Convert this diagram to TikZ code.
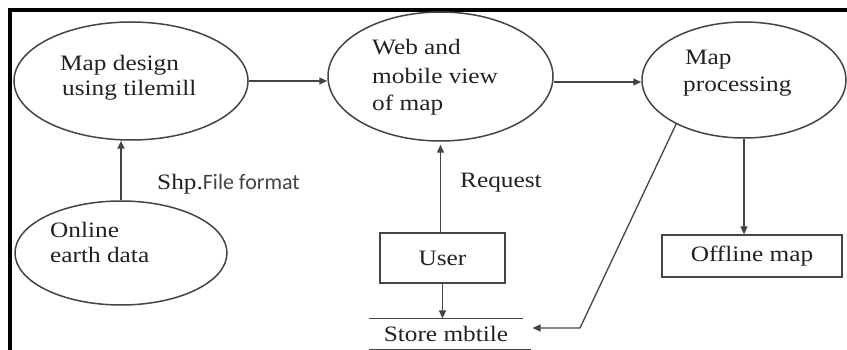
\documentclass[tikz,border=0pt]{standalone}
\usepackage{fontspec}
\setmainfont{Liberation Serif}[FakeStretch=1.15]
\newfontfamily\labsans{Carlito}
\usetikzlibrary{shapes.geometric,arrows.meta}
\definecolor{ln}{HTML}{444444}
\definecolor{tx}{HTML}{222222}
\tikzset{
  ell/.style={ellipse, draw=ln, line width=1.5pt, inner sep=0pt},
  boxn/.style={rectangle, draw=ln, line width=1.2pt, inner sep=0pt, text=tx, font=\fontsize{22}{26}\selectfont},
  txt/.style={anchor=base west, inner sep=0pt, text=tx, font=\fontsize{22}{26}\selectfont},
  arr/.style={draw=ln, line width=1.3pt, -{Triangle[length=8pt,width=7pt]}},
  plain/.style={draw=ln, line width=1.3pt}
}
\begin{document}
\begin{tikzpicture}[x=1pt,y=-1pt]
\useasboundingbox (0,0) rectangle (847,350);
\fill[white] (0,0) rectangle (847,350);
% frame
\draw[line width=3.5pt, line cap=rect] (10,350) -- (10,10) -- (847,10);
% ellipses
\node[ell, minimum width=234pt, minimum height=118pt] (e1) at (131,81) {};
\node[ell, minimum width=225pt, minimum height=129pt] (e2) at (440.5,76.5) {};
\node[ell, minimum width=204pt, minimum height=116pt] (e3) at (744,80) {};
\node[ell, minimum width=212pt, minimum height=104pt] (e4) at (121,253) {};
% ellipse texts
\node[txt] (t1a) at (60,71) {Map design};
\node[txt] (t1b) at (62,96) {using tilemill};
\node[txt] (t2a) at (372,55) {Web and};
\node[txt] (t2b) at (372,84) {mobile view};
\node[txt] (t2c) at (372,111) {of map};
\node[txt] (t3a) at (685,65) {Map};
\node[txt] (t3b) at (683,92) {processing};
\node[txt] (t4a) at (50,237) {Online};
\node[txt] (t4b) at (50,262) {earth data};
% boxes
\node[boxn, minimum width=125pt, minimum height=50pt] (user) at (442.5,258) {User};
\node[boxn, minimum width=180pt, minimum height=42pt] (off) at (752,256) {Offline map};
\node[boxn, draw=none, minimum width=152pt, minimum height=30pt] (store) at (446,334) {Store mbtile};
\draw[plain] (store.north west) -- (store.north east);
\draw[plain] (store.south west) -- ([xshift=8pt]store.south east);
% labels
\node[txt] (lshp) at (157,190) {Shp.{\labsans\color{ln}File format}};
\node[txt] (lreq) at (460,188) {Request};
% connectors
\draw[arr] (e1.east) -- (e1.east -| e2.west);
\draw[arr] ([yshift=-5.5pt]e2.east) -- ([yshift=-5.5pt]e2.east -| e3.west);
\draw[arr, line width=2.4pt] (e4.north) -- (e4.north |- e1.south);
\draw[arr] (e2.south |- user.north) -- ([yshift=-3pt]e2.south);
\draw[arr] (user.south) -- (user.south |- store.north);
\draw[arr] (e3.south) -- (e3.south |- off.north);
\coordinate (bend) at (580,328);
\draw[arr] (e3.213) -- (bend) -- ([xshift=10pt]store.east |- bend);
\end{tikzpicture}
\end{document}
